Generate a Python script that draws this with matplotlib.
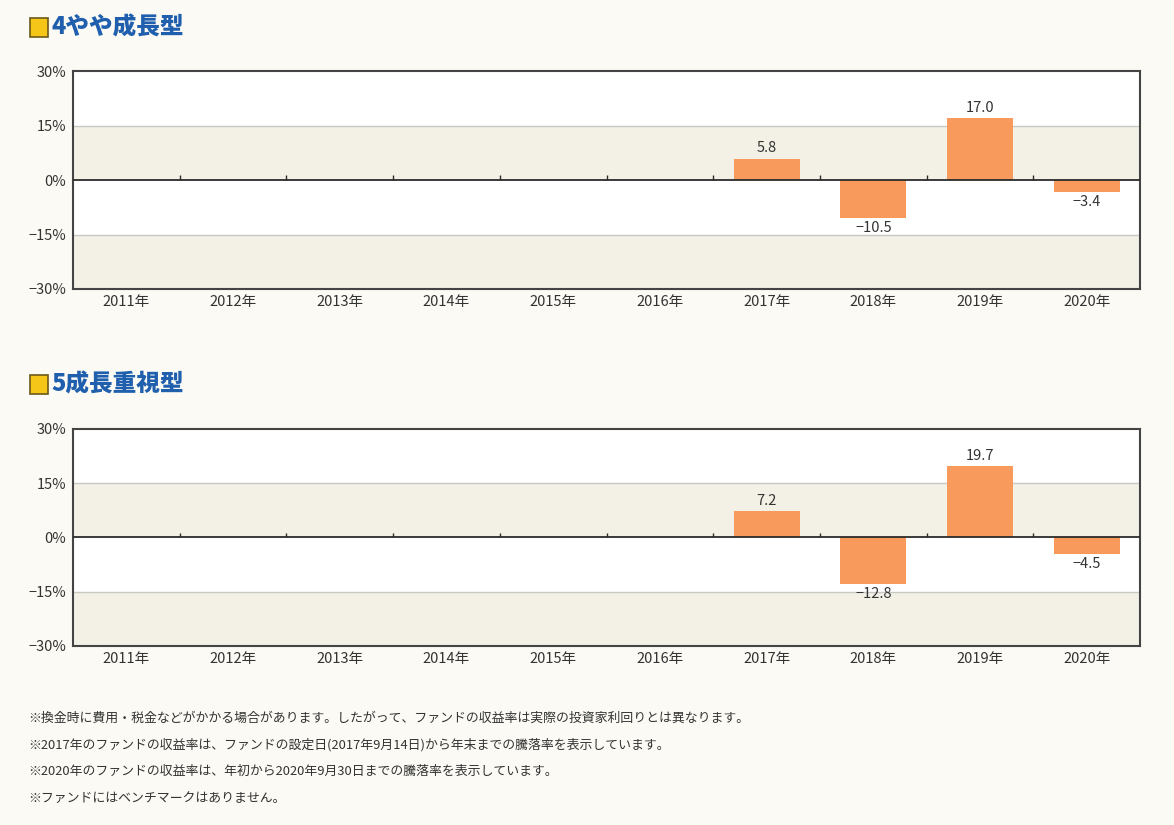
import matplotlib
matplotlib.use("Agg")
import matplotlib.pyplot as plt
import matplotlib.patches as mpatches
import numpy as np

plt.rcParams["font.family"] = ["Noto Sans CJK JP", "DejaVu Sans"]

# data
years = ["2011年", "2012年", "2013年", "2014年", "2015年",
         "2016年", "2017年", "2018年", "2019年", "2020年"]
titles = ["4やや成長型", "5成長重視型"]
returns_4 = [None, None, None, None, None, None, 5.8, -10.5, 17.0, -3.4]
returns_5 = [None, None, None, None, None, None, 7.2, -12.8, 19.7, -4.5]
yticks = [-30, -15, 0, 15, 30]
notes = [
    "※換金時に費用・税金などがかかる場合があります。したがって、ファンドの収益率は実際の投資家利回りとは異なります。",
    "※2017年のファンドの収益率は、ファンドの設定日(2017年9月14日)から年末までの騰落率を表示しています。",
    "※2020年のファンドの収益率は、年初から2020年9月30日までの騰落率を表示しています。",
    "※ファンドにはベンチマークはありません。",
]

BG = "#fbfaf4"
BAND = "#f3f1e6"
BAR = "#f79a5c"
TITLE_BLUE = "#1f5fae"
TEXT = "#333333"

fig = plt.figure(figsize=(11.74, 8.25), dpi=100, facecolor=BG)

positions = [(0.0622, 0.6497, 0.909, 0.2642), (0.0622, 0.2170, 0.909, 0.2630)]
title_y = [0.967, 0.534]

for pos, ty, title, vals in zip(positions, title_y, titles, [returns_4, returns_5]):
    ax = fig.add_axes(pos)
    ax.set_facecolor("white")
    x = np.arange(len(years))
    ax.set_xlim(-0.5, len(years) - 0.5)
    ax.set_ylim(-30, 30)

    # background bands
    ax.axhspan(0, 15, color=BAND, zorder=0, lw=0)
    ax.axhspan(-30, -15, color=BAND, zorder=0, lw=0)
    for g in [-15, 15]:
        ax.axhline(g, color="#c9c9c4", lw=1.0, zorder=1)

    for xi, v in zip(x, vals):
        if v is None:
            continue
        ax.bar(xi, v, width=0.62, color=BAR, zorder=2)
        if v >= 0:
            ax.text(xi, v + 1.0, f"{v:.1f}", ha="center", va="bottom",
                    fontsize=10.5, color=TEXT)
        else:
            ax.text(xi, v - 0.8, f"−{abs(v):.1f}", ha="center", va="top",
                    fontsize=10.5, color=TEXT)

    ax.axhline(0, color="#2b2b2b", lw=1.3, zorder=3)
    # small boundary ticks on zero line
    bounds = x[:-1] + 0.5
    ax.vlines(bounds, 0, 1.3, color="#2b2b2b", lw=1.0, zorder=3)

    ax.set_xticks(x)
    ax.set_xticklabels(years, fontsize=10.5, color=TEXT)
    ax.set_yticks(yticks)
    ax.set_yticklabels([f"{t}%" if t >= 0 else f"−{abs(t)}%" for t in yticks],
                       fontsize=10.5, color=TEXT)
    ax.tick_params(axis="both", length=0, pad=4)
    ax.tick_params(axis="y", pad=5)
    for s in ax.spines.values():
        s.set_color("#444444")
        s.set_linewidth(1.5)

    # title with yellow square
    fig.patches.append(mpatches.Rectangle((0.0255, ty - 0.0115), 0.0155, 0.0225,
                                          transform=fig.transFigure,
                                          facecolor="#f5c518", edgecolor="#6b5a1a",
                                          lw=1.2))
    fig.text(0.044, ty, title, fontsize=17, fontweight="heavy",
             color=TITLE_BLUE, va="center", ha="left")

for i, line in enumerate(notes):
    fig.text(0.024, 0.130 - i * 0.0325, line, fontsize=9.3, color=TEXT,
             va="center", ha="left")

fig.savefig("out.png", dpi=100, facecolor=BG)
